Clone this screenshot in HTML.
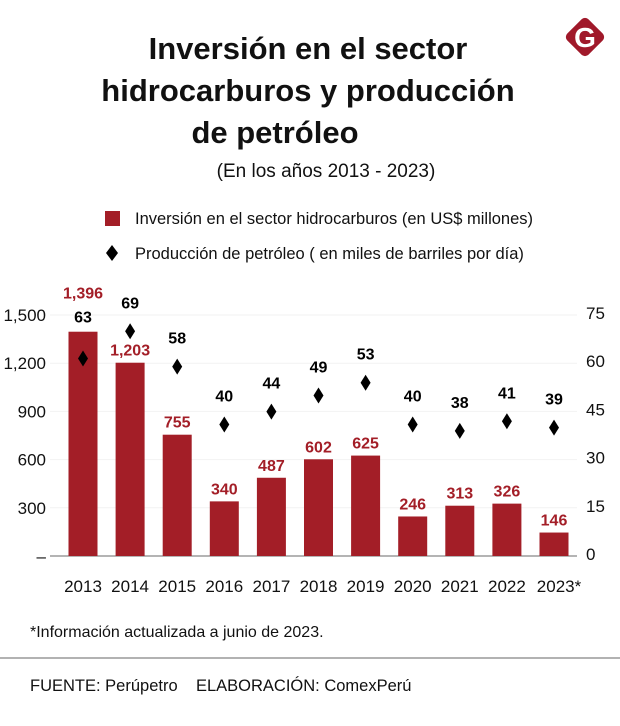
<!DOCTYPE html>
<html><head><meta charset="utf-8">
<style>
body{margin:0;width:620px;height:721px;background:#fff;font-family:"Liberation Sans",sans-serif;overflow:hidden}
svg text{font-family:"Liberation Sans",sans-serif}
</style></head>
<body>
<svg width="620" height="721" viewBox="0 0 620 721">
<g>
<rect x="570" y="22" width="30" height="30" rx="5" fill="#a0192a" transform="rotate(45 585 37)"/>
<text x="585" y="47" text-anchor="middle" font-size="28" font-weight="bold" fill="#fff" font-family="Liberation Serif">G</text>
</g>
<g font-weight="bold" font-size="31" text-anchor="middle" fill="#111">
<text x="308" y="59">Inversión en el sector</text>
<text x="308" y="101">hidrocarburos y producción</text>
<text x="275" y="143">de petróleo</text>
</g>
<text x="326" y="177" text-anchor="middle" font-size="19" fill="#111">(En los años 2013 - 2023)</text>
<g font-size="16.5" fill="#111">
<rect x="105" y="211" width="15" height="15" fill="#a31e27"/>
<text x="135" y="224">Inversión en el sector hidrocarburos (en US$ millones)</text>
<path d="M112 245 L118 253 L112 261 L106 253 Z" fill="#000"/>
<text x="135" y="259">Producción de petróleo ( en miles de barriles por día)</text>
</g>
<g id="plot"></g>
<text x="30" y="637" font-size="16" fill="#111">*Información actualizada a junio de 2023.</text>
<line x1="0" y1="658" x2="620" y2="658" stroke="#999" stroke-width="1.5"/>
<text x="30" y="691" font-size="16.5" fill="#111">FUENTE: Perúpetro&#160;&#160;&#160;&#160;ELABORACIÓN: ComexPerú</text>
</svg>
<script>
const years=["2013","2014","2015","2016","2017","2018","2019","2020","2021","2022","2023*"];
const investment=[1396,1203,755,340,487,602,625,246,313,326,146];
const production=[63,69,58,40,44,49,53,40,38,41,39];
const leftTicks=[0,300,600,900,1200,1500];
const leftTickLabels=["–","300","600","900","1,200","1,500"];
const rightTicks=[0,15,30,45,60,75];
const NS="http://www.w3.org/2000/svg";
const plotG=document.getElementById('plot');
const yBase=556,yTop=315;
const yL=v=>yBase-(v/1500)*(yBase-yTop);
const yR=v=>yBase-(v/75)*(yBase-yTop)-3;
const xC=i=>83+i*47.1;
function mk(t,a){const e=document.createElementNS(NS,t);for(const k in a)e.setAttribute(k,a[k]);plotG.appendChild(e);return e;}
leftTicks.forEach((t,i)=>{
 const gl=mk('line',{x1:50,x2:577,y1:yL(t),y2:yL(t),stroke:'#f2f2f2','stroke-width':1});
 
 
 const tx=mk('text',{x:46,y:yL(t)+6,'text-anchor':'end','font-size':17,fill:'#111'});
 tx.textContent=leftTickLabels[i];
 
 
});
rightTicks.forEach(t=>{
 const tx=mk('text',{x:586,y:yBase-(t/75)*(yBase-yTop)+4,'text-anchor':'start','font-size':17,fill:'#111'});
 tx.textContent=t;
 
 
});
const ax=mk('line',{x1:50,x2:577,y1:yBase,y2:yBase,stroke:'#888','stroke-width':1.2});


years.forEach((y,i)=>{
 const x=xC(i);
 const b=mk('rect',{x:x-14.5,y:yL(investment[i]),width:29,height:yBase-yL(investment[i]),fill:'#a31e27'});
 
 
 const first=i===0;
 const lb=mk('text',{x:x,y:first?yL(investment[i])-33:yL(investment[i])-7,'text-anchor':'middle','font-size':16,'font-weight':'bold',fill:'#a31e27'});
 lb.textContent=investment[i].toLocaleString('en-US');
 
 
 const dy=yR(production[i])+(first?8:0);
 const d=mk('path',{d:`M${x} ${dy-8} L${x+5} ${dy} L${x} ${dy+8} L${x-5} ${dy} Z`,fill:'#000'});
 
 
 const pl=mk('text',{x:x,y:dy-(first?36:23),'text-anchor':'middle','font-size':16,'font-weight':'bold',fill:'#000'});
 pl.textContent=production[i];
 
 
 const xl=mk('text',{x:x+(i===10?5:0),y:592,'text-anchor':'middle','font-size':17,fill:'#111'});
 xl.textContent=y;
 
 
});
</script>
</body></html>
